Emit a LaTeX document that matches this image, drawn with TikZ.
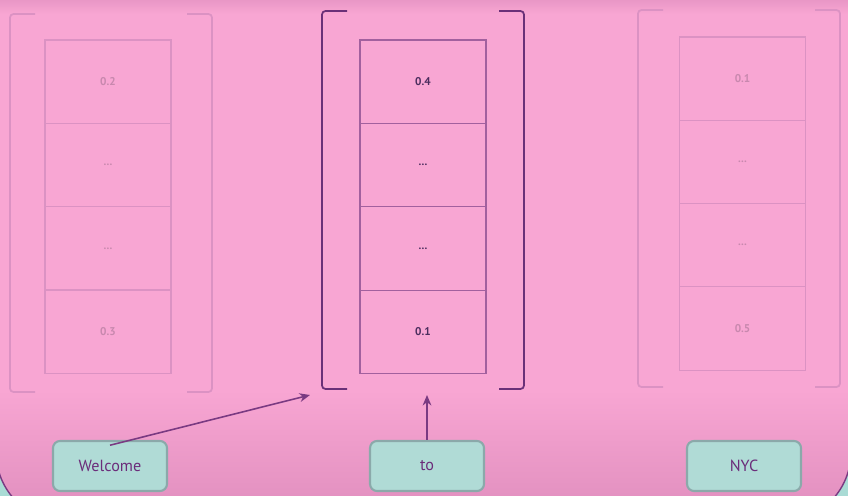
\documentclass[tikz,border=0pt]{standalone}
\usepackage{fontspec}
\setsansfont{PT Sans}
\usetikzlibrary{arrows.meta,positioning}
\definecolor{BgPink}{HTML}{F8A6D3}
\definecolor{BgPinkDark}{HTML}{DF8DBD}
\definecolor{OuterTeal}{HTML}{A9DBD5}
\definecolor{FrameEdge}{HTML}{7A3A82}
\definecolor{TokenFill}{HTML}{B0DBD6}
\definecolor{TokenEdge}{HTML}{8BA9AA}
\definecolor{TokenText}{HTML}{6B2C7A}
\definecolor{VecLine}{HTML}{A2609E}
\definecolor{VecBracket}{HTML}{6A3078}
\definecolor{VecText}{HTML}{4B2D5E}
\definecolor{FadeLine}{HTML}{DB92C3}
\definecolor{FadeText}{HTML}{C888AE}

\begin{document}
\begin{tikzpicture}[
    x=0.02cm, y=-0.02cm,
    font=\sffamily,
    cell/.style={draw=VecLine, line width=0.7pt, minimum width=2.52cm, minimum height=1.667cm, inner sep=0pt, text=VecText, font=\sffamily\bfseries\fontsize{6.4}{8}\selectfont},
    fadecell/.style={cell, draw=FadeLine, text=FadeText},
    bracket/.style={draw=VecBracket, line width=1pt, rounded corners=2pt},
    fadebracket/.style={bracket, draw=FadeLine},
    token/.style={draw=TokenEdge, fill=TokenFill, line width=1.2pt, rounded corners=4pt, minimum width=2.28cm, minimum height=1.0cm, text=TokenText, font=\sffamily\fontsize{9.2}{11}\selectfont},
    flow/.style={-{Stealth[length=6pt, width=5pt]}, draw=FrameEdge, line width=0.9pt}
]

  % Fundo
  \clip (0,0) rectangle (848,496);
  \fill[OuterTeal] (0,0) rectangle (848,496);
  \begin{scope}
    \clip[rounded corners=1.4cm] (-4,-60) rectangle (851,522);
    \fill[BgPink] (-4,-60) rectangle (851,522);
    \shade[top color=BgPink, bottom color=BgPinkDark] (-4,390) rectangle (851,522);
    \shade[top color=BgPinkDark!60!BgPink, bottom color=BgPink] (-4,0) rectangle (851,14);
  \end{scope}
  \draw[FrameEdge, line width=0.8pt, rounded corners=1.4cm] (-4,-60) rectangle (851,522);

  % =====================================================================
  % LEFT VECTOR (faded)
  % =====================================================================
  \draw[fadebracket] (35,14) -- (10,14) -- (10,392) -- (35,392);
  \draw[fadebracket] (187,14) -- (212,14) -- (212,392) -- (187,392);
  \node[fadecell] (l1) at (108,81.6) {0.2};
  \node[fadecell] (l2) at (108,165) {...};
  \node[fadecell] (l3) at (108,248.3) {...};
  \node[fadecell] (l4) at (108,331.6) {0.3};

  % =====================================================================
  % MIDDLE VECTOR
  % =====================================================================
  \draw[bracket] (347,11) -- (322,11) -- (322,389) -- (347,389);
  \draw[bracket] (499,11) -- (524,11) -- (524,389) -- (499,389);
  \node[cell] (m1) at (423,81.7) {0.4};
  \node[cell] (m2) at (423,165) {...};
  \node[cell] (m3) at (423,248.5) {...};
  \node[cell] (m4) at (423,332) {0.1};

  % =====================================================================
  % RIGHT VECTOR (faded)
  % =====================================================================
  \draw[fadebracket] (663,10) -- (638,10) -- (638,387) -- (663,387);
  \draw[fadebracket] (815,10) -- (840,10) -- (840,387) -- (815,387);
  \node[fadecell] (r1) at (742.5,78.6) {0.1};
  \node[fadecell] (r2) at (742.5,161.9) {...};
  \node[fadecell] (r3) at (742.5,245.2) {...};
  \node[fadecell] (r4) at (742.5,328.5) {0.5};

  % =====================================================================
  % TOKENS
  % =====================================================================
  \node[token] (welcome) at (110,466) {Welcome};
  \node[token] (to) at (427,466) {to};
  \node[token] (nyc) at (744,466) {NYC};

  % Arrows into the middle vector
  \coordinate (hit_welcome) at (310,395);
  \coordinate (hit_to) at (427,395);
  \draw[flow] ([yshift=-3pt]welcome.north) -- (hit_welcome);
  \draw[flow] (to.north) -- (hit_to);

\end{tikzpicture}
\end{document}
